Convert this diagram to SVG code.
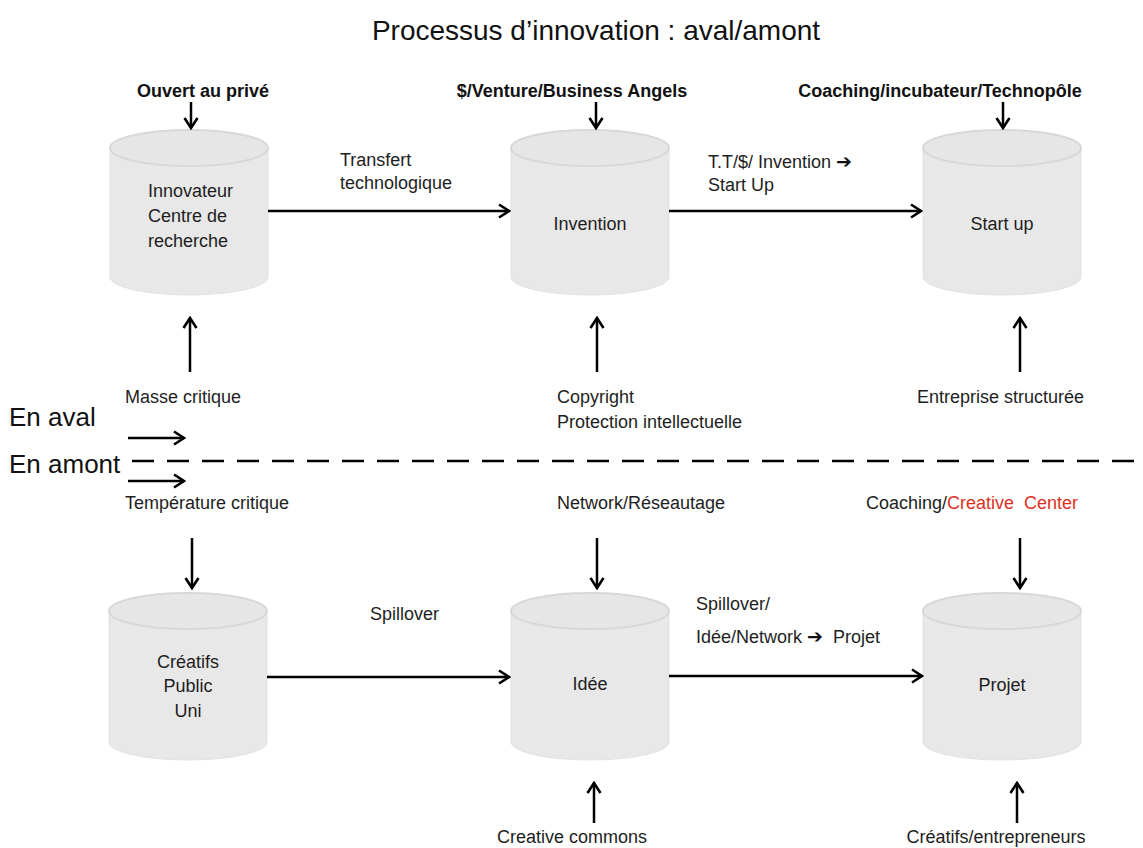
<svg xmlns="http://www.w3.org/2000/svg" width="1143" height="848" viewBox="0 0 1143 848">
<style>
.t{font-family:"Liberation Sans",Arial,sans-serif;font-size:18px;fill:#1e1e1e}
.b{font-family:"Liberation Sans",Arial,sans-serif;font-size:18px;font-weight:bold;fill:#111}
.m{text-anchor:middle}
.big{font-family:"Liberation Sans",Arial,sans-serif;font-size:26px;fill:#111}
.body{fill:#e8e8e8;stroke:#e2e2e2;stroke-width:1}
.top{fill:#e6e6e6;stroke:#d8d8d8;stroke-width:2}
.ln{stroke:#000;stroke-width:2.5;fill:none}
.red{fill:#e0301e}
.ar{font-family:"DejaVu Sans",sans-serif;font-weight:bold;font-size:19px;fill:#111}
</style>
<defs>
<marker id="ah" markerWidth="13" markerHeight="16" refX="11" refY="8" orient="auto" markerUnits="userSpaceOnUse">
<path d="M1,1.5 L11,8 L1,14.5" fill="none" stroke="#000" stroke-width="2.6"/>
</marker>
</defs>
<rect width="1143" height="848" fill="#fff"/>
<text x="596" y="40" class="m" style="font-family:'Liberation Sans',Arial,sans-serif;font-size:28px;fill:#111">Processus d’innovation : aval/amont</text>

<g id="n-innovateur">
<path class="body" d="M110,148 L110,277 A79,18 0 0 0 268,277 L268,148 Z"/>
<ellipse class="top" cx="189" cy="148" rx="79" ry="18"/>
<text class="t" x="148" y="197">Innovateur</text>
<text class="t" x="148" y="222">Centre de</text>
<text class="t" x="148" y="247">recherche</text>
</g>
<g id="n-invention">
<path class="body" d="M511,148 L511,277 A79,18 0 0 0 669,277 L669,148 Z"/>
<ellipse class="top" cx="590" cy="148" rx="79" ry="18"/>
<text class="t m" x="590" y="230">Invention</text>
</g>
<g id="n-startup">
<path class="body" d="M923,148 L923,277 A79,18 0 0 0 1081,277 L1081,148 Z"/>
<ellipse class="top" cx="1002" cy="148" rx="79" ry="18"/>
<text class="t m" x="1002" y="230">Start up</text>
</g>
<g id="n-creatifs">
<path class="body" d="M109,611 L109,742 A79,18 0 0 0 267,742 L267,611 Z"/>
<ellipse class="top" cx="188" cy="611" rx="79" ry="18"/>
<text class="t m" x="188" y="668">Créatifs</text>
<text class="t m" x="188" y="692">Public</text>
<text class="t m" x="188" y="717">Uni</text>
</g>
<g id="n-idee">
<path class="body" d="M511,611 L511,742 A79,18 0 0 0 669,742 L669,611 Z"/>
<ellipse class="top" cx="590" cy="611" rx="79" ry="18"/>
<text class="t m" x="590" y="690">Idée</text>
</g>
<g id="n-projet">
<path class="body" d="M923,611 L923,742 A79,18 0 0 0 1081,742 L1081,611 Z"/>
<ellipse class="top" cx="1002" cy="611" rx="79" ry="18"/>
<text class="t m" x="1002" y="691">Projet</text>
</g>

<g id="labels">
<text class="b m" x="203" y="97">Ouvert au privé</text>
<text class="b m" x="572" y="97">$/Venture/Business Angels</text>
<text class="b m" x="940" y="97">Coaching/incubateur/Technopôle</text>
<text class="t" x="340" y="166">Transfert</text>
<text class="t" x="340" y="189">technologique</text>
<text class="t" x="708" y="168">T.T/$/ Invention <tspan class="ar">➔</tspan></text>
<text class="t" x="708" y="191">Start Up</text>
<text class="t" x="125" y="403">Masse critique</text>
<text class="t" x="557" y="403">Copyright</text>
<text class="t" x="557" y="428">Protection intellectuelle</text>
<text class="t" x="917" y="403">Entreprise structurée</text>
<text class="big" x="9" y="426">En aval</text>
<text class="big" x="9" y="473">En amont</text>
<text class="t" x="125" y="509">Température critique</text>
<text class="t" x="557" y="509">Network/Réseautage</text>
<text class="t" x="866" y="509">Coaching/<tspan class="red">Creative&#160; Center</tspan></text>
<text class="t" x="370" y="620">Spillover</text>
<text class="t" x="696" y="610">Spillover/</text>
<text class="t" x="696" y="643">Idée/Network <tspan class="ar">➔</tspan>&#160; Projet</text>
<text class="t m" x="572" y="843">Creative commons</text>
<text class="t m" x="996" y="843">Créatifs/entrepreneurs</text>
</g>

<g id="connectors">
<line class="ln" x1="191" y1="102" x2="191" y2="128" marker-end="url(#ah)"/>
<line class="ln" x1="596" y1="102" x2="596" y2="128" marker-end="url(#ah)"/>
<line class="ln" x1="1003" y1="102" x2="1003" y2="128" marker-end="url(#ah)"/>
<line class="ln" x1="268" y1="211" x2="509" y2="211" marker-end="url(#ah)"/>
<line class="ln" x1="669" y1="211" x2="921" y2="211" marker-end="url(#ah)"/>
<line class="ln" x1="190" y1="372" x2="190" y2="318" marker-end="url(#ah)"/>
<line class="ln" x1="597" y1="372" x2="597" y2="318" marker-end="url(#ah)"/>
<line class="ln" x1="1020" y1="372" x2="1020" y2="318" marker-end="url(#ah)"/>
<line class="ln" x1="128" y1="438" x2="184" y2="438" marker-end="url(#ah)"/>
<line class="ln" x1="128" y1="481" x2="184" y2="481" marker-end="url(#ah)"/>
<line x1="132" y1="461" x2="1143" y2="461" stroke="#000" stroke-width="2.5" stroke-dasharray="22,13"/>
<line class="ln" x1="192" y1="538" x2="192" y2="588" marker-end="url(#ah)"/>
<line class="ln" x1="597" y1="538" x2="597" y2="588" marker-end="url(#ah)"/>
<line class="ln" x1="1020" y1="538" x2="1020" y2="588" marker-end="url(#ah)"/>
<line class="ln" x1="267" y1="677" x2="509" y2="677" marker-end="url(#ah)"/>
<line class="ln" x1="669" y1="676" x2="922" y2="676" marker-end="url(#ah)"/>
<line class="ln" x1="594" y1="823" x2="594" y2="783" marker-end="url(#ah)"/>
<line class="ln" x1="1017" y1="823" x2="1017" y2="783" marker-end="url(#ah)"/>
</g>
</svg>
